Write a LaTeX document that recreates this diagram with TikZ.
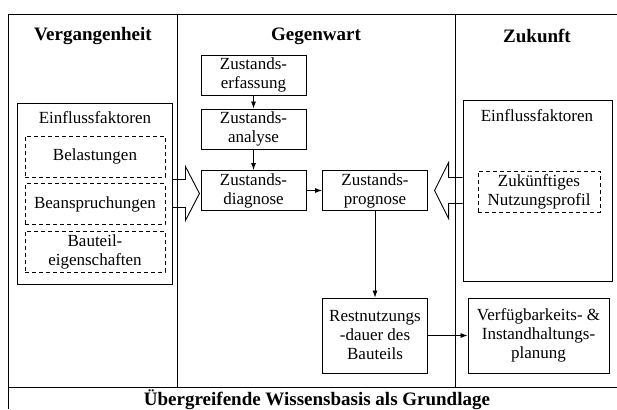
\documentclass[tikz,border=0pt]{standalone}
\usepackage{fontspec}
\setmainfont{Liberation Serif}
\usetikzlibrary{arrows.meta,calc}
\begin{document}
\begin{tikzpicture}[x=1pt,y=-1pt, line width=0.9pt,
  every node/.style={font=\fontsize{17}{19}\selectfont, inner sep=0pt},
  box/.style={draw, align=center, minimum width=105pt, minimum height=40pt},
  dbox/.style={draw, dash pattern=on 4pt off 3pt, align=center, minimum width=140pt, minimum height=41pt},
  frame/.style={draw, minimum width=155pt, minimum height=181pt},
  head/.style={font=\fontsize{19}{22}\selectfont\bfseries},
  arr/.style={-{Latex[length=7pt,width=5pt]}, line width=0.8pt},
  hollow/.style={line join=miter}]
\useasboundingbox (0,0) rectangle (617,409);
% frame
\draw (617,14) -- (8,14) -- (8,409);
\draw (8,387) -- (617,387);
\draw (177,14) -- (177,387);
\draw (455,14) -- (455,387);
% headers
\node[head] (h1) at (93,36) {Vergangenheit};
\node[head] (h2) at (316,36) {Gegenwart};
\node[head] (h3) at (537,36) {Zukunft};
\node[head] (base) at (317,400) {Übergreifende Wissensbasis als Grundlage};
% left factors
\node[frame] (lef) at (94.5,193.5) {};
\node (lefl) at (95,118) {Einflussfaktoren};
\node[dbox] (bel) at (95,156.5) {Belastungen};
\node[dbox] (bea) at (95,204) {Beanspruchungen};
\node[dbox] (bau) at (95,251.5) {Bauteil-\\eigenschaften};
% right factors
\node[frame, minimum width=149pt] (rbox) at (537.5,190.5) {};
\node (rboxl) at (537,116) {Einflussfaktoren};
\node[dbox, minimum width=122pt] (znp) at (539,191.5) {Zukünftiges\\Nutzungsprofil};
% present
\node[box] (erf) at (253.5,75) {Zustands-\\erfassung};
\node[box] (ana) at (253.5,129) {Zustands-\\analyse};
\node[box] (dia) at (253.5,190.5) {Zustands-\\diagnose};
\node[box] (pro) at (375,190.5) {Zustands-\\prognose};
\node[box, minimum height=75pt] (rnd) at (375,335.5) {Restnutzungs\\-dauer des\\Bauteils};
\node[box, minimum width=141pt, minimum height=75pt] (vip) at (538.5,335.5) {Verfügbarkeits- \&\\Instandhaltungs-\\planung};
% arrows
\draw[arr] (erf) -- (ana);
\draw[arr] (ana) -- (dia);
\draw[arr] (dia) -- (pro);
\draw[arr] (pro) -- (rnd);
\draw[arr] (rnd) -- (vip);
% hollow block arrows
\draw[hollow] ($(lef.east)+(0,-14)$) -- ++(13,0) -- ++(0,-13) -- ++(14,27) -- ++(-14,27) -- ++(0,-13) -- ++(-13,0);
\draw[hollow] ($(rbox.west)+(0,-13)$) -- ++(-14,0) -- ++(0,-15) -- ++(-14,28) -- ++(14,28) -- ++(0,-15) -- ++(14,0);
\end{tikzpicture}
\end{document}
